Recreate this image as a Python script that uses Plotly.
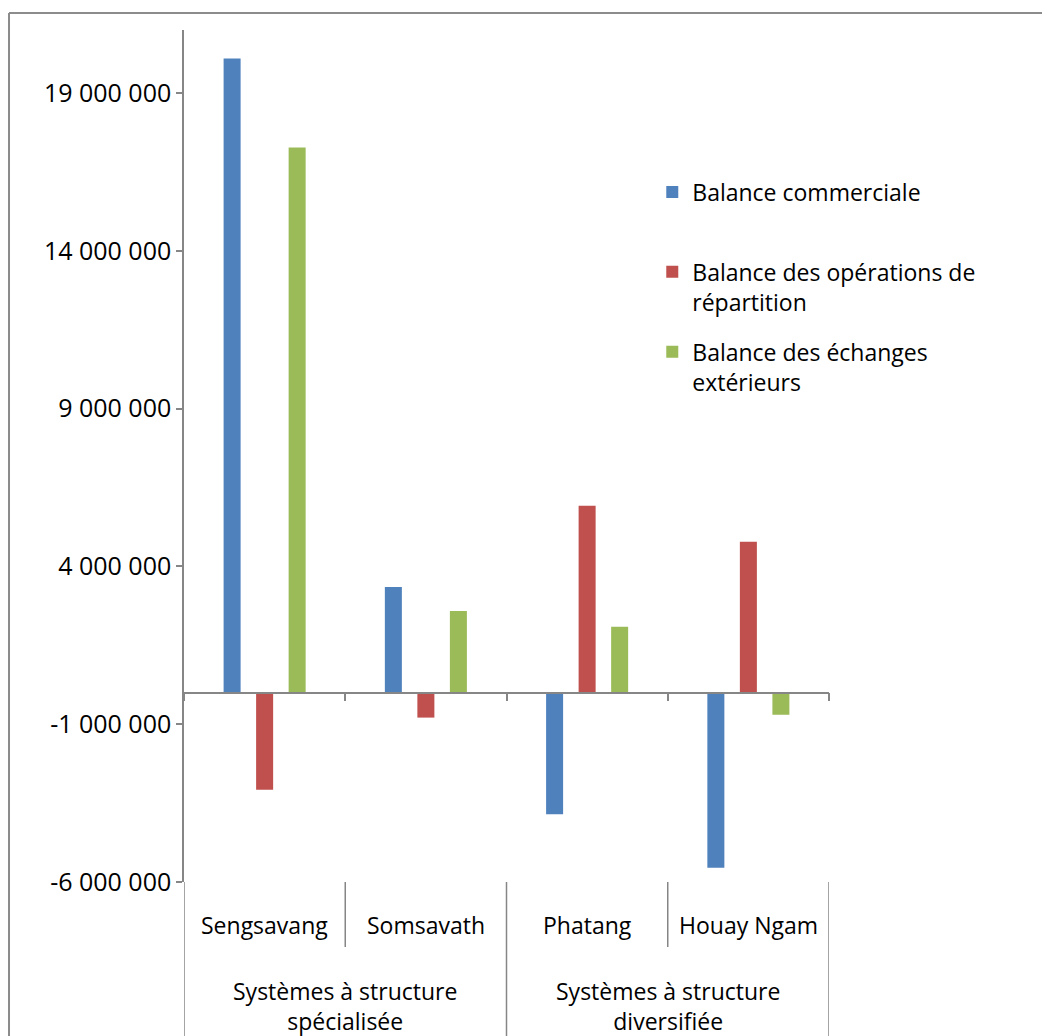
import plotly.graph_objects as go

# DONNÉES
exploitations = ['Sengsavang', 'Somsavath', 'Phatang', 'Houay Ngam']
systemes = ['Systèmes à structure<br>spécialisée', 'Systèmes à structure<br>diversifiée']

series = ['Balance commerciale<br> ',
          'Balance des opérations de<br>répartition',
          'Balance des échanges<br>extérieurs']
balance_commerciale = [20100000, 3350000, -3850000, -5550000]
balance_repartition = [-3080000, -790000, 5920000, 4780000]
balance_echanges = [17280000, 2590000, 2090000, -700000]

tick_vals = [-6000000, -1000000, 4000000, 9000000, 14000000, 19000000]
tick_text = ['-6 000 000', '-1 000 000', '4 000 000', '9 000 000', '14 000 000', '19 000 000']

couleurs = ['#4F81BD', '#C0504D', '#9BBB59']
police = 'Open Sans'
gris = '#868686'
taille = 23

valeurs = [balance_commerciale, balance_repartition, balance_echanges]

fig = go.Figure()
for nom, v, c in zip(series, valeurs, couleurs):
    fig.add_trace(go.Bar(x=exploitations, y=v, name=nom, legendgroup=nom,
                         marker=dict(color=c, line=dict(width=0))))

# ETIQUETTES DES CATEGORIES (DEUX NIVEAUX)
annots = []
for e in exploitations:
    annots.append(dict(x=e, xref='x', y=-0.0505, yref='paper', text=e, showarrow=False,
                       font=dict(size=taille, color='black', family=police), yanchor='middle'))
for i, s in enumerate(systemes):
    annots.append(dict(x=2 * i + 0.5, xref='x', y=-0.1455, yref='paper', text=s, showarrow=False,
                       font=dict(size=taille, color='black', family=police), yanchor='middle'))

# LIGNES DE SEPARATION SOUS L'AXE
shapes = []
for b in [-0.5, 0.5, 1.5, 2.5, 3.5]:
    bas = -0.2 if b in (-0.5, 1.5, 3.5) else -0.0763
    shapes.append(dict(type='line', xref='x', yref='paper', x0=b, x1=b, y0=0, y1=bas,
                       line=dict(color=gris, width=1.5)))
# CADRE DU GRAPHIQUE (BORDS GAUCHE ET HAUT)
shapes.append(dict(type='line', xref='paper', yref='paper', x0=-0.2713, x1=1.4, y0=1.02, y1=1.02,
                   line=dict(color='#8c8c8c', width=2)))
shapes.append(dict(type='line', xref='paper', yref='paper', x0=-0.2713, x1=-0.2713, y0=1.02, y1=-0.3,
                   line=dict(color='#8c8c8c', width=2)))

fig.update_layout(
    template='none',
    width=1042, height=1036,
    margin=dict(l=184, r=213, t=30, b=154),
    paper_bgcolor='white', plot_bgcolor='white',
    barmode='group', bargap=0.395, bargroupgap=0.477,
    font=dict(family=police, size=taille, color='black'),
    showlegend=True,
    legend=dict(x=0.726, y=0.835, xanchor='left', yanchor='top', valign='top',
                tracegroupgap=17, font=dict(size=taille, family=police, color='black'),
                bgcolor='rgba(0,0,0,0)'),
    annotations=annots,
    shapes=shapes,
)

fig.update_yaxes(range=[-6000000, 21000000], tickvals=tick_vals, ticktext=tick_text,
                 showgrid=False, zeroline=False, showline=True, linecolor=gris, linewidth=1.5,
                 ticks='outside', ticklen=6, tickcolor=gris, tickwidth=1.5,
                 ticklabelstandoff=0, tickfont=dict(size=25, family=police, color='black'))
fig.update_xaxes(anchor='free', position=6 / 27, showticklabels=False, showgrid=False,
                 showline=True, linecolor=gris, linewidth=1.5, ticks='outside', ticklen=8,
                 tickcolor=gris, tickwidth=1.5, tickson='boundaries', range=[-0.5, 3.5])

# MARGE DU <body> A ZERO POUR QUE LA FIGURE OCCUPE TOUTE LA FENETRE
fig.write_html("out.html", config={'displayModeBar': False},
               post_script="document.body.style.margin='0';")
